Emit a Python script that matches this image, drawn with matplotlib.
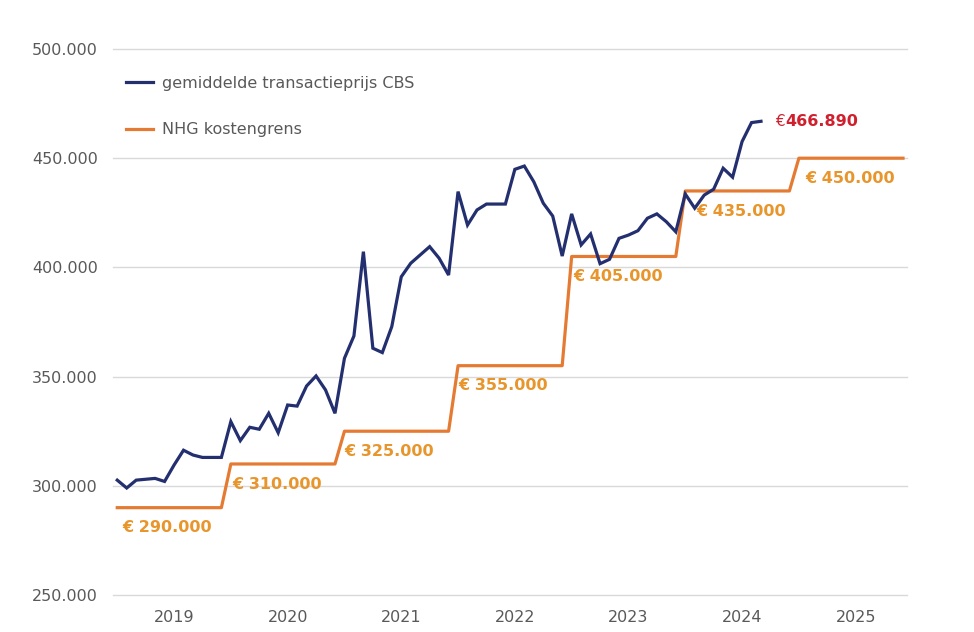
import matplotlib.pyplot as plt
import numpy as np

years = ["2019", "2020", "2021", "2022", "2023", "2024", "2025"]

# gemiddelde transactieprijs CBS, monthly from jan 2019 to sep 2024
cbs = [302600, 299000, 302600, 303000, 303400, 302000, 309500, 316300, 314100, 313000, 313000, 313000,
       329400, 320700, 326800, 325900, 333200, 324300, 337000, 336500, 345700, 350300, 343900, 333200,
       358400, 368600, 407200, 363000, 361000, 372900, 395700, 401900, 405700, 409500, 404200, 396500,
       434700, 419400, 426300, 429000, 429000, 429000, 444900, 446400, 439200, 429400, 423500, 405200,
       424500, 410300, 415300, 401700, 403700, 413300, 414800, 416800, 422500, 424500, 420900, 416300,
       433600, 427100, 433100, 435800, 445400, 441300, 457600, 466300, 466890]

# NHG kostengrens per year
nhg_year = [290000, 310000, 325000, 355000, 405000, 435000, 450000]

yticks = [250000, 300000, 350000, 400000, 450000, 500000]

navy = "#232f6e"
orange = "#e57b33"
label_orange = "#e8952c"
red = "#d0202e"
grey = "#595959"

nhg = np.repeat(nhg_year, 12)
x_nhg = np.arange(len(nhg))
x_cbs = np.arange(len(cbs))

fig = plt.figure(figsize=(9.74, 6.32), dpi=100)
ax = fig.add_axes([0.116, 0.0585, 0.815, 0.864])

ax.plot(x_cbs, cbs, color=navy, lw=2.3, label="gemiddelde transactieprijs CBS", zorder=3,
        solid_joinstyle="miter")
ax.plot(x_nhg, nhg, color=orange, lw=2.3, label="NHG kostengrens", zorder=2)

ax.set_xlim(-0.45, 83.4)
ax.set_ylim(250000, 500000)
ax.set_yticks(yticks)
ax.set_yticklabels([f"{v:,}".replace(",", ".") for v in yticks])
ax.set_xticks([6 + 12 * i for i in range(len(years))])
ax.set_xticklabels(years)
ax.tick_params(length=0, labelsize=11.5, labelcolor=grey)
ax.tick_params(axis="y", pad=11)
ax.tick_params(axis="x", pad=11)
ax.grid(axis="y", color="#d9d9d9", lw=1)
for g in ax.yaxis.get_gridlines():
    g.set_clip_on(False)
ax.set_axisbelow(True)
for s in ax.spines.values():
    s.set_visible(False)

# labels under each NHG step
shift = [0.5, 0.2, 0.0, 0.0, 0.2, 1.2, 0.7]
for i, v in enumerate(nhg_year):
    label = "€ " + f"{v:,}".replace(",", ".")
    ax.annotate(label, (12 * i + shift[i], v), xytext=(0, -14.5), textcoords="offset points",
                ha="left", va="center", fontsize=11.5, fontweight="bold", color=label_orange)

# last CBS value
last = len(cbs) - 1
ax.annotate("€", (last, cbs[last]), xytext=(10, 0), textcoords="offset points",
            ha="left", va="center", fontsize=11, color=red)
ax.annotate(f"{cbs[last]:,}".replace(",", "."), (last, cbs[last]), xytext=(17.5, 0),
            textcoords="offset points", ha="left", va="center", fontsize=11.5,
            fontweight="bold", color=red)

ax.legend(loc="upper left", bbox_to_anchor=(0.006, 0.965), frameon=False, borderpad=0,
          fontsize=11.5, labelcolor=grey, handlelength=1.7, handletextpad=0.6, labelspacing=1.95)

fig.savefig("out.png", dpi=100)
